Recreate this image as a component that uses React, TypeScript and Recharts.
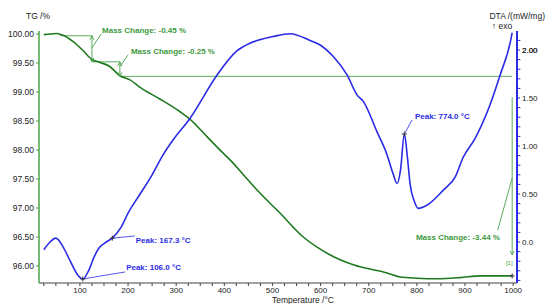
import { ComposedChart, Line, XAxis, YAxis, ReferenceLine, ReferenceDot, Label } from "recharts";

const W = 545;
const H = 304;
const FONT = "'Liberation Sans', Arial, sans-serif";

const TG_GREEN = "#1f7a1f";
const NOTE_GREEN = "#3d9a3d";
const LINE_GREEN = "#5cab5c";
const DTA_BLUE = "#2b2be6";
const TEXT = "#222";

// TG / % vs temperature / °C
const tgData = [
  { t: 25, v: 99.99 },
  { t: 40, v: 100.0 },
  { t: 52, v: 100.01 },
  { t: 65, v: 99.98 },
  { t: 86, v: 99.87 },
  { t: 106, v: 99.72 },
  { t: 125, v: 99.56 },
  { t: 142, v: 99.51 },
  { t: 162, v: 99.44 },
  { t: 183, v: 99.28 },
  { t: 204, v: 99.21 },
  { t: 225, v: 99.08 },
  { t: 266, v: 98.88 },
  { t: 308, v: 98.66 },
  { t: 329, v: 98.53 },
  { t: 364, v: 98.23 },
  { t: 397, v: 97.95 },
  { t: 412, v: 97.83 },
  { t: 440, v: 97.57 },
  { t: 468, v: 97.31 },
  { t: 516, v: 96.91 },
  { t: 564, v: 96.5 },
  { t: 592, v: 96.33 },
  { t: 620, v: 96.19 },
  { t: 668, v: 96.02 },
  { t: 738, v: 95.88 },
  { t: 765, v: 95.81 },
  { t: 800, v: 95.79 },
  { t: 842, v: 95.78 },
  { t: 890, v: 95.8 },
  { t: 932, v: 95.83 },
  { t: 998, v: 95.83 },
];

// DTA / (mW/mg) vs temperature / °C
const dtaData = [
  { t: 25, v: -0.08 },
  { t: 38, v: 0.0 },
  { t: 50, v: 0.04 },
  { t: 65, v: -0.05 },
  { t: 80, v: -0.2 },
  { t: 95, v: -0.34 },
  { t: 106, v: -0.385 },
  { t: 118, v: -0.3 },
  { t: 130, v: -0.15 },
  { t: 140, v: -0.06 },
  { t: 155, v: 0.0 },
  { t: 167, v: 0.04 },
  { t: 185, v: 0.15 },
  { t: 200, v: 0.3 },
  { t: 225, v: 0.5 },
  { t: 250, v: 0.7 },
  { t: 273, v: 0.91 },
  { t: 293, v: 1.06 },
  { t: 329, v: 1.29 },
  { t: 385, v: 1.74 },
  { t: 426, v: 1.99 },
  { t: 453, v: 2.07 },
  { t: 501, v: 2.14 },
  { t: 537, v: 2.17 },
  { t: 578, v: 2.1 },
  { t: 600, v: 2.05 },
  { t: 625, v: 1.94 },
  { t: 655, v: 1.74 },
  { t: 676, v: 1.53 },
  { t: 688, v: 1.47 },
  { t: 717, v: 1.15 },
  { t: 738, v: 0.91 },
  { t: 750, v: 0.72 },
  { t: 759, v: 0.61 },
  { t: 766, v: 0.75 },
  { t: 774, v: 1.125 },
  { t: 780, v: 0.9 },
  { t: 786, v: 0.6 },
  { t: 795, v: 0.42 },
  { t: 803, v: 0.35 },
  { t: 820, v: 0.38 },
  { t: 855, v: 0.54 },
  { t: 880, v: 0.68 },
  { t: 896, v: 0.88 },
  { t: 921, v: 1.08 },
  { t: 952, v: 1.43 },
  { t: 973, v: 1.74 },
  { t: 994, v: 2.08 },
  { t: 998, v: 2.18 },
];

const T_MIN = 15;
const T_MAX = 1008;
const tempLabels = [100, 200, 300, 400, 500, 600, 700, 800, 900, 1000];
const tempTicks: number[] = [];
for (let t = 25; t <= 1000; t += 25) tempTicks.push(t);

const tgTicks = [96, 96.5, 97, 97.5, 98, 98.5, 99, 99.5, 100];
const dtaTicks = [0, 0.5, 1, 1.5, 2];
const dtaMinor = [-0.4, -0.3, -0.2, -0.1, 0.1, 0.2, 0.3, 0.4, 0.6, 0.7, 0.8, 0.9, 1.1, 1.2, 1.3, 1.4, 1.6, 1.7, 1.8, 1.9, 2.1];

// mass change steps: T of the start line, T of the step, TG before, TG after
const massSteps = [
  { t0: 58, t1: 125, hi: 99.97, lo: 99.52 },
  { t0: 125, t1: 183, hi: 99.52, lo: 99.27 },
];
const massLevel = { t0: 183, t1: 998, v: 99.27 };
const totalStep = { t: 998, top: 98.91, bottom: 96.19, end: 95.83 };

const massNotes = [
  { text: "Mass Change: -0.45 %", x: 146, y: 100.069, from: { x: 125, y: 99.76 }, to: { x: 144, y: 100.0 } },
  { text: "Mass Change: -0.25 %", x: 206, y: 99.707, from: { x: 183, y: 99.44 }, to: { x: 200, y: 99.64 } },
  { text: "Mass Change: -3.44 %", x: 798, y: 96.5, from: { x: 998, y: 97.52 }, to: { x: 968, y: 96.62 } },
];

const peakNotes = [
  { text: "Peak: 106.0 °C", peak: { x: 106, y: -0.385 }, x: 196, y: -0.26, to: { x: 194, y: -0.312 } },
  { text: "Peak: 167.3 °C", peak: { x: 167.3, y: 0.04 }, x: 216, y: 0.016, to: { x: 214, y: 0.063 } },
  { text: "Peak: 774.0 °C", peak: { x: 774, y: 1.125 }, x: 796, y: 1.313, to: { x: 790, y: 1.271 } },
];

const cross = (color: string) => (p: any) => (
  <path
    d={`M${p.cx - 2.5},${p.cy}H${p.cx + 2.5}M${p.cx},${p.cy - 2.5}V${p.cy + 2.5}`}
    stroke={color}
    strokeWidth={1}
  />
);

const arrow = (dir: 1 | -1) => (p: any) => (
  <path
    d={`M${p.cx - 2},${p.cy - dir * 4}L${p.cx},${p.cy}L${p.cx + 2},${p.cy - dir * 4}`}
    stroke={LINE_GREEN}
    fill="none"
    strokeWidth={1}
  />
);

const noteLabel = (text: string, color: string, size = 8) => ({
  value: text,
  position: "right" as const,
  offset: 0,
  fill: color,
  fontSize: size,
  fontWeight: "bold",
  fontFamily: FONT,
});

const fmtTemp = (v: number) => (tempLabels.includes(v) ? String(v) : "");
const fmtDta = (v: number) => (v === 0 ? "0.0" : v.toFixed(2));

const tickStyle = { fontSize: 8.5, fill: TEXT, fontFamily: FONT };

// axis titles sit outside the plot area; the top DTA label is repeated here
// because the axis leaves it out
const Titles = () => (
  <g fontFamily={FONT} fill={TEXT} fontSize={8.5}>
    <text x={303} y={300} dy="0.35em" textAnchor="middle">
      Temperature /°C
    </text>
    <text x={38} y={16} dy="0.35em" textAnchor="middle">
      TG /%
    </text>
    <text x={545} y={16} dy="0.35em" textAnchor="end">
      DTA /(mW/mg)
    </text>
    <text x={502} y={26} dy="0.35em" textAnchor="middle">
      ↑ exo
    </text>
    <text x={522} y={50} dy="0.35em" textAnchor="start" fontSize={8}>
      2.00
    </text>
  </g>
);

export default function App() {
  return (
    <div style={{ position: "absolute", left: 0, top: 0, background: "#fff" }}>
      <ComposedChart width={W} height={H} margin={{ top: 31, right: 0, bottom: 0, left: 0 }}>
        <XAxis
          type="number"
          dataKey="t"
          domain={[T_MIN, T_MAX]}
          allowDataOverflow
          ticks={tempTicks}
          interval={0}
          tickFormatter={fmtTemp}
          tick={{ ...tickStyle, fontSize: 8 }}
          tickSize={3}
          tickMargin={1}
          height={21}
          axisLine={{ stroke: "#444" }}
          tickLine={{ stroke: "#444" }}
        >
          <Label content={() => <Titles />} />
        </XAxis>
        <YAxis
          yAxisId="tg"
          orientation="left"
          width={39}
          domain={[95.707, 100.052]}
          allowDataOverflow
          ticks={tgTicks}
          interval={0}
          tickFormatter={(v: number) => v.toFixed(2)}
          tick={tickStyle}
          tickSize={3}
          tickMargin={2}
          axisLine={{ stroke: "#4aa24a", strokeWidth: 1.5 }}
          tickLine={{ stroke: "#4aa24a" }}
        />
        <YAxis
          yAxisId="dta"
          orientation="right"
          width={28}
          domain={[-0.427, 2.198]}
          allowDataOverflow
          ticks={dtaTicks}
          interval={0}
          tickFormatter={fmtDta}
          tick={{ ...tickStyle, fontSize: 8 }}
          tickSize={3}
          tickMargin={2}
          axisLine={{ stroke: DTA_BLUE, strokeWidth: 2 }}
          tickLine={{ stroke: DTA_BLUE }}
        />

        {/* minor ticks of the DTA axis */}
        {dtaMinor.map((v) => (
          <ReferenceLine
            key={`m${v}`}
            yAxisId="dta"
            segment={[{ x: T_MAX, y: v }, { x: T_MAX + 7, y: v }]}
            stroke={DTA_BLUE}
            ifOverflow="visible"
          />
        ))}

        {/* mass change construction lines */}
        {massSteps.map((s, i) => (
          <ReferenceLine
            key={`h${i}`}
            yAxisId="tg"
            segment={[{ x: s.t0, y: s.hi }, { x: s.t1, y: s.hi }]}
            stroke={LINE_GREEN}
            ifOverflow="visible"
          />
        ))}
        {massSteps.map((s, i) => (
          <ReferenceLine
            key={`v${i}`}
            yAxisId="tg"
            segment={[{ x: s.t1, y: s.hi }, { x: s.t1, y: s.lo }]}
            stroke={LINE_GREEN}
            ifOverflow="visible"
          />
        ))}
        {massSteps.map((s, i) => (
          <ReferenceDot key={`a${i}`} yAxisId="tg" x={s.t1} y={s.lo} r={1} shape={arrow(1)} ifOverflow="visible" />
        ))}
        {massSteps.map((s, i) => (
          <ReferenceDot key={`b${i}`} yAxisId="tg" x={s.t1} y={s.hi} r={1} shape={arrow(-1)} ifOverflow="visible" />
        ))}
        <ReferenceLine
          yAxisId="tg"
          segment={[{ x: massLevel.t0, y: massLevel.v }, { x: massLevel.t1, y: massLevel.v }]}
          stroke={LINE_GREEN}
        />
        <ReferenceLine
          yAxisId="tg"
          segment={[{ x: totalStep.t, y: totalStep.top }, { x: totalStep.t, y: totalStep.bottom }]}
          stroke={LINE_GREEN}
        />
        <ReferenceDot yAxisId="tg" x={totalStep.t} y={totalStep.bottom} r={1} shape={arrow(1)} ifOverflow="visible" />
        <ReferenceDot
          yAxisId="tg"
          x={985}
          y={96.05}
          r={0}
          fill="none"
          stroke="none"
          label={{ ...noteLabel("[1]", NOTE_GREEN, 6), fontWeight: "normal" }}
        />

        {massNotes.map((n, i) => (
          <ReferenceLine
            key={`ml${i}`}
            yAxisId="tg"
            segment={[n.from, n.to]}
            stroke={LINE_GREEN}
            ifOverflow="visible"
          />
        ))}
        {massNotes.map((n, i) => (
          <ReferenceDot
            key={`mt${i}`}
            yAxisId="tg"
            x={n.x}
            y={n.y}
            r={0}
            fill="none"
            stroke="none"
            ifOverflow="visible"
            label={noteLabel(n.text, NOTE_GREEN)}
          />
        ))}

        <Line
          yAxisId="tg"
          data={tgData}
          dataKey="v"
          type="monotone"
          stroke={TG_GREEN}
          strokeWidth={1.6}
          dot={false}
          isAnimationActive={false}
        />
        <Line
          yAxisId="dta"
          data={dtaData}
          dataKey="v"
          type="monotone"
          stroke={DTA_BLUE}
          strokeWidth={1.6}
          dot={false}
          isAnimationActive={false}
        />
        <ReferenceDot yAxisId="tg" x={totalStep.t} y={totalStep.end} r={1} shape={cross("#333")} />

        {peakNotes.map((n, i) => (
          <ReferenceLine
            key={`pl${i}`}
            yAxisId="dta"
            segment={[n.peak, n.to]}
            stroke={DTA_BLUE}
            strokeWidth={0.8}
          />
        ))}
        {peakNotes.map((n, i) => (
          <ReferenceDot key={`pc${i}`} yAxisId="dta" x={n.peak.x} y={n.peak.y} r={1} shape={cross("#333")} />
        ))}
        {peakNotes.map((n, i) => (
          <ReferenceDot
            key={`pt${i}`}
            yAxisId="dta"
            x={n.x}
            y={n.y}
            r={0}
            fill="none"
            stroke="none"
            label={noteLabel(n.text, DTA_BLUE)}
          />
        ))}
      </ComposedChart>
    </div>
  );
}
